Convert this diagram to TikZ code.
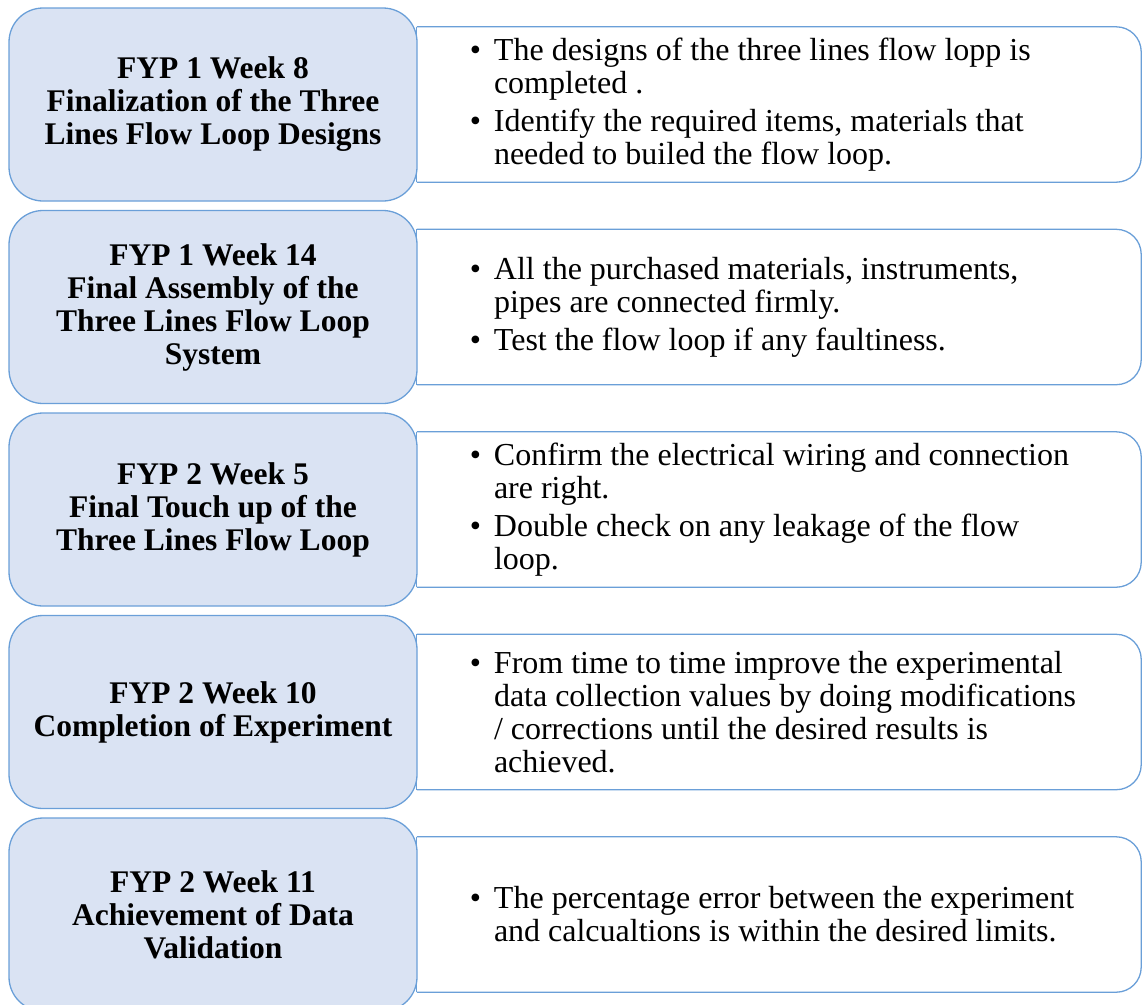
\documentclass[tikz,border=0pt]{standalone}
\usepackage{fontspec}
\setmainfont{Liberation Serif}
\definecolor{boxfill}{HTML}{DAE3F3}
\definecolor{boxline}{HTML}{6A9FD8}
\begin{document}
\begin{tikzpicture}[x=1pt,y=-1pt,
  stage/.style={draw=boxline, fill=boxfill, line width=1.3pt, rounded corners=34pt,
    minimum width=408pt, minimum height=193pt, inner sep=0pt, align=center,
    font=\fontsize{31.5}{33}\selectfont\bfseries},
  panel/.style={minimum width=724pt, minimum height=155pt, inner sep=0pt},
  outline/.style={draw=boxline, line width=1.3pt},
  detail/.style={inner sep=0pt, anchor=west, align=left,
    font=\fontsize{32}{33}\selectfont}]
\useasboundingbox (0,0) rectangle (1142,1004);
\newcommand{\itm}{\llap{\textbullet\hspace{13pt}}}

% right-hand panels: square on the left, rounded on the right
\foreach \i/\c in {1/104.5, 2/307, 3/509.5, 4/712, 5/914.5}{
  \node[panel] (p\i) at (779,\c) {};
  \draw[outline, rounded corners=25pt] (p\i.north west) -- (p\i.north east)
     -- (p\i.south east) -- (p\i.south west);
  \draw[outline] (p\i.north west) -- (p\i.south west);
}

% milestone boxes
\node[stage] (s1) at (213,104.5) {FYP 1 Week 8\\Finalization of the Three\\Lines Flow Loop Designs};
\node[stage] (s2) at (213,307) {FYP 1 Week 14\\Final Assembly of the\\Three Lines Flow Loop\\System};
\node[stage] (s3) at (213,509.5) {FYP 2 Week 5\\Final Touch up of the\\Three Lines Flow Loop};
\node[stage] (s4) at (213,712) {FYP 2 Week 10\\Completion of Experiment};
\node[stage] (s5) at (213,914.5) {FYP 2 Week 11\\Achievement of Data\\Validation};

% activity lists
\node[detail] (d1) at ([xshift=77pt]p1.west) {\itm The designs of the three lines flow lopp is\\completed .\\[5pt]\itm Identify the required items, materials that\\needed to builed the flow loop.};
\node[detail] (d2) at ([xshift=77pt]p2.west) {\itm All the purchased materials, instruments,\\pipes are connected firmly.\\[5pt]\itm Test the flow loop if any faultiness.};
\node[detail] (d3) at ([xshift=77pt]p3.west) {\itm Confirm the electrical wiring and connection\\are right.\\[5pt]\itm Double check on any leakage of the flow\\loop.};
\node[detail] (d4) at ([xshift=77pt]p4.west) {\itm From time to time improve the experimental\\data collection values by doing modifications\\/ corrections until the desired results is\\achieved.};
\node[detail] (d5) at ([xshift=77pt]p5.west) {\itm The percentage error between the experiment\\and calcualtions is within the desired limits.};
\end{tikzpicture}
\end{document}
